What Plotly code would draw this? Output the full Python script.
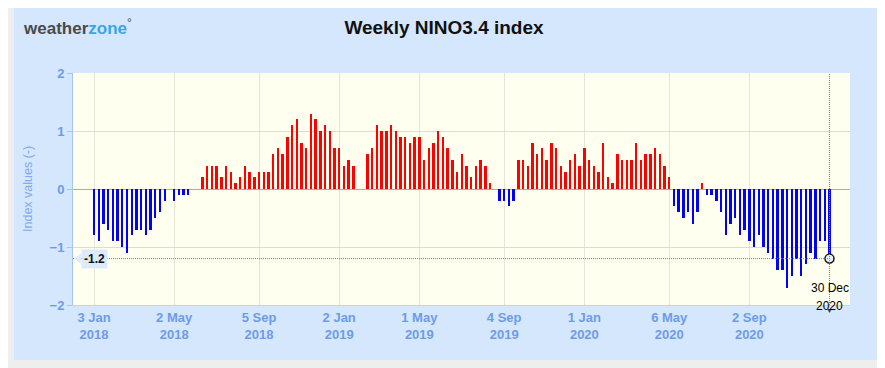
import plotly.graph_objects as go
import pandas as pd

# ---------------- data ----------------
start_date = "2018-01-03"
nino34 = [
    -0.8, -0.9, -0.6, -0.7, -0.9, -0.9, -1.0, -1.1, -0.8, -0.7,
    -0.7, -0.8, -0.7, -0.5, -0.4, -0.2, 0.0, -0.2, -0.1, -0.1,
    -0.1, 0.0, 0.0, 0.2, 0.4, 0.4, 0.4, 0.2, 0.4, 0.3,
    0.1, 0.2, 0.4, 0.3, 0.2, 0.3, 0.3, 0.3, 0.6, 0.7,
    0.6, 0.9, 1.1, 1.2, 0.8, 0.7, 1.3, 1.2, 1.0, 1.1,
    1.0, 0.7, 0.7, 0.4, 0.5, 0.4, 0.0, 0.0, 0.6, 0.7,
    1.1, 1.0, 1.0, 1.1, 1.0, 0.9, 0.9, 0.8, 0.9, 0.9,
    0.5, 0.7, 0.8, 1.0, 0.9, 0.7, 0.5, 0.3, 0.6, 0.4,
    0.2, 0.4, 0.5, 0.4, 0.1, 0.0, -0.2, -0.2, -0.3, -0.2,
    0.5, 0.5, 0.4, 0.8, 0.6, 0.7, 0.5, 0.8, 0.7, 0.4,
    0.3, 0.5, 0.6, 0.4, 0.7, 0.5, 0.4, 0.3, 0.8, 0.2,
    0.1, 0.6, 0.5, 0.5, 0.5, 0.8, 0.5, 0.6, 0.6, 0.7,
    0.6, 0.4, 0.2, -0.3, -0.4, -0.5, -0.4, -0.6, -0.4, 0.1,
    -0.1, -0.1, -0.2, -0.4, -0.8, -0.6, -0.5, -0.8, -0.7, -0.9,
    -1.0, -0.8, -1.0, -1.1, -1.2, -1.4, -1.4, -1.7, -1.5, -1.2,
    -1.5, -1.3, -1.1, -1.2, -0.9, -0.9, -1.2,
]
tick_dates = ["2018-01-03", "2018-05-02", "2018-09-05", "2019-01-02", "2019-05-01",
              "2019-09-04", "2020-01-01", "2020-05-06", "2020-09-02"]
tick_labels = ["3 Jan<br>2018", "2 May<br>2018", "5 Sep<br>2018", "2 Jan<br>2019",
               "1 May<br>2019", "4 Sep<br>2019", "1 Jan<br>2020", "6 May<br>2020",
               "2 Sep<br>2020"]
y_ticks = [-2, -1, 0, 1, 2]
last_label_day = "30 Dec"
last_label_year = "2020"

dates = pd.date_range(start_date, periods=len(nino34), freq="7D")
bar_colors = ["#ff0000" if v > 0 else "#0000ff" for v in nino34]
last_date = dates[-1]
last_val = nino34[-1]

# ---------------- geometry ----------------
# the page adds an 8px body margin, so the figure is 877x360 and page px = figure px + 8
OFF = 8
W, H = 877, 360
ML, MR, MT, MB = 65, 35, 65, 63
PW, PH = W - ML - MR, H - MT - MB


def px_x(page_px):
    return (page_px - OFF - ML) / PW


def px_y(page_py):
    return (H - MB - (page_py - OFF)) / PH


AXIS_BLUE = "#6f9be6"
PANEL = "#d4e7fd"
CALLOUT = "#dcebfc"
FONT = "Liberation Sans, Arial"
week_ms = 7 * 24 * 3600 * 1000

fig = go.Figure()
fig.add_trace(go.Bar(
    x=dates, y=nino34,
    width=0.5 * week_ms,
    marker=dict(color=bar_colors, line=dict(width=0)),
    hoverinfo="skip",
))
fig.add_trace(go.Scatter(
    x=[last_date], y=[last_val], mode="markers",
    marker=dict(size=9, color="#e3eefb", line=dict(color="#111111", width=1.5)),
    hoverinfo="skip", cliponaxis=False,
))

shapes = [
    # light blue panel
    dict(type="rect", xref="paper", yref="paper", x0=px_x(14), x1=px_x(877),
         y0=px_y(360), y1=px_y(6), fillcolor=PANEL, line=dict(width=0), layer="below"),
    # ivory plot area
    dict(type="rect", xref="paper", yref="paper", x0=0, x1=1, y0=0, y1=1,
         fillcolor="#fffff0", line=dict(width=0), layer="below"),
    # crosshair vertical
    dict(type="line", xref="x", yref="paper", x0=last_date, x1=last_date, y0=0, y1=1,
         line=dict(color="#808080", width=1, dash="1px,1px")),
    # crosshair horizontal
    dict(type="line", xref="paper", yref="y", x0=0, x1=px_x(829), y0=last_val, y1=last_val,
         line=dict(color="#808080", width=1, dash="1px,1px")),
    # callout pointer
    dict(type="path", xref="paper", yref="y",
         path=f"M {px_x(74)} {last_val} L {px_x(81)} {last_val + 5/58} L {px_x(81)} {last_val - 5/58} Z",
         fillcolor=CALLOUT, line=dict(width=0)),
]

annotations = [
    dict(xref="paper", yref="paper", x=px_x(21), y=px_y(27), xanchor="left", yanchor="middle",
         text="<b><span style='color:#4a4a4a'>weather</span><span style='color:#3aa6e6'>zone</span></b>"
              "<span style='color:#4a4a4a'><sup>°</sup></span>",
         showarrow=False, font=dict(family=FONT, size=17)),
    dict(xref="paper", yref="paper", x=0, y=0.5, xshift=-45, textangle=-90,
         xanchor="center", yanchor="middle", text="Index values (-)", showarrow=False,
         font=dict(family=FONT, size=12.5, color="#84a9ec")),
    dict(xref="paper", yref="y", x=0, y=last_val, xshift=21, xanchor="center", yanchor="middle",
         text=f"<b>{last_val}</b>", showarrow=False, bgcolor=CALLOUT, borderpad=2,
         font=dict(family=FONT, size=12, color="#111111")),
    dict(xref="x", yref="paper", x=last_date, y=0, yshift=-5, xanchor="center", yanchor="middle",
         text="▼", showarrow=False, font=dict(size=7, color="#333333")),
    dict(xref="x", yref="paper", x=last_date, y=0, yshift=17, xanchor="center", yanchor="middle",
         text=last_label_day, showarrow=False,
         font=dict(family=FONT, size=12, color="#000000")),
    dict(xref="x", yref="paper", x=last_date, y=0, yshift=-1, xanchor="center", yanchor="middle",
         text=last_label_year, showarrow=False,
         font=dict(family=FONT, size=12, color="#000000")),
]

fig.update_layout(
    width=W, height=H,
    margin=dict(l=ML, r=MR, t=MT, b=MB, pad=0),
    paper_bgcolor="#eeeeee",
    plot_bgcolor="rgba(0,0,0,0)",
    showlegend=False,
    bargap=0,
    title=dict(text="<b>Weekly NINO3.4 index</b>", x=(444 - OFF) / W, xref="container",
               xanchor="center", y=1 - (27 - OFF) / H, yref="container", yanchor="middle",
               font=dict(family=FONT, size=19, color="#111111")),
    xaxis=dict(
        type="date",
        range=["2017-12-02 19:00", "2021-01-29 10:00"],
        tickvals=tick_dates, ticktext=tick_labels,
        showgrid=True, gridcolor="#e6e4d8", gridwidth=1,
        showline=True, linecolor="#d0d0d0", linewidth=1,
        ticks="", zeroline=False,
        tickfont=dict(family=FONT, size=13, color=AXIS_BLUE, weight="bold"),
    ),
    yaxis=dict(
        range=[-2, 2], tickvals=y_ticks,
        showgrid=True, gridcolor="#dcdcd4", gridwidth=1,
        zeroline=True, zerolinecolor="#90b0ea", zerolinewidth=1,
        showline=True, linecolor="#a9c3ef", linewidth=1,
        ticks="outside", ticklen=5, tickcolor="#a9c3ef",
        tickfont=dict(family=FONT, size=13, color=AXIS_BLUE, weight="bold"),
    ),
    shapes=shapes,
    annotations=annotations,
)

fig.write_html("out.html")
